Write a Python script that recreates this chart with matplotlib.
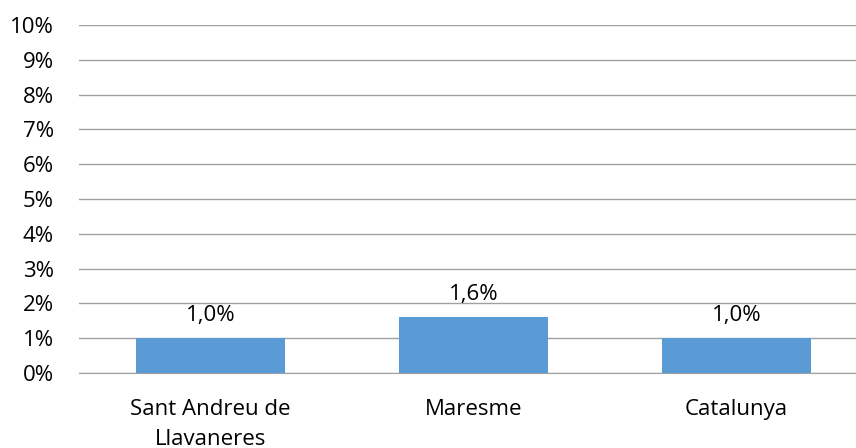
import matplotlib
matplotlib.use("Agg")
import matplotlib.pyplot as plt
from matplotlib.ticker import FuncFormatter

categories = ["Sant Andreu de\nLlavaneres", "Maresme", "Catalunya"]
values = [1.0, 1.6, 1.0]
labels = ["1,0%", "1,6%", "1,0%"]
yticks = list(range(0, 11))

plt.rcParams['font.family'] = ['Open Sans', 'DejaVu Sans']

fig = plt.figure(figsize=(8.56, 4.48), dpi=100)
ax = fig.add_axes([79/856, 1 - 373/448, (868-79)/856, (373-25)/448])

x = list(range(len(categories)))
ax.bar(x, values, width=0.57, color="#5B9BD5", zorder=3)
for xi, v, lab in zip(x, values, labels):
    ax.annotate(lab, (xi, v), xytext=(0, 9), textcoords="offset points",
                ha="center", va="bottom", fontsize=16, color="#000000")

ax.set_xlim(-0.5, 2.5)
ax.set_ylim(0, 10)
ax.set_yticks(yticks)
ax.yaxis.set_major_formatter(FuncFormatter(lambda v, p: f"{int(v)}%"))
ax.set_xticks(x)
ax.set_xticklabels(categories, fontsize=16, linespacing=1.55)
ax.tick_params(axis='y', labelsize=16, length=0, pad=18)
ax.tick_params(axis='x', length=0, pad=19)
ax.grid(axis='y', color="#A0A0A0", linewidth=1.0, zorder=0)
for s in ["top", "right", "left"]:
    ax.spines[s].set_visible(False)
ax.spines["bottom"].set_color("#A0A0A0")

fig.savefig("out.png", dpi=100)
